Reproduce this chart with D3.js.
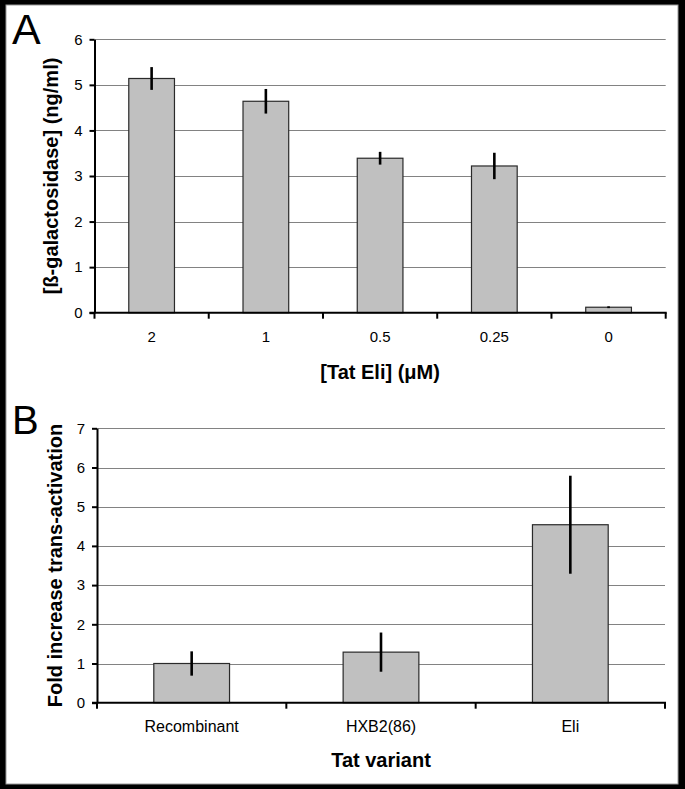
<!DOCTYPE html>
<html>
<head>
<meta charset="utf-8">
<script src="https://cdn.jsdelivr.net/npm/d3@7"></script>
<style>
  html, body { margin: 0; padding: 0; background: #000; }
  svg { display: block; }
  text { font-family: "Liberation Sans", Arial, sans-serif; }
</style>
</head>
<body>
<svg id="chart" width="685" height="789"></svg>
<script>
// ---- data ----
const catsA = ["2", "1", "0.5", "0.25", "0"];
const valsA = [5.14, 4.64, 3.39, 3.22, 0.12];
const errA  = [0.25, 0.27, 0.14, 0.29, 0.02];
const ticksA = [0, 1, 2, 3, 4, 5, 6];

const catsB = ["Recombinant", "HXB2(86)", "Eli"];
const valsB = [1.0, 1.29, 4.54];
const errB  = [0.31, 0.5, 1.25];
const ticksB = [0, 1, 2, 3, 4, 5, 6, 7];

const svg = d3.select("#chart");
svg.append("rect").attr("x", 0).attr("y", 0).attr("width", 685).attr("height", 789).attr("fill", "#000");
svg.append("rect").attr("x", 6).attr("y", 5).attr("width", 672).attr("height", 779)
   .attr("fill", "#fff").attr("stroke", "#9a9a9a").attr("stroke-width", 1);

function panel(cfg) {
  const g = svg.append("g");
  const x = d3.scaleBand().domain(cfg.cats).range([cfg.x0, cfg.x1]).paddingInner(0.6).paddingOuter(0.3);
  const y = d3.scaleLinear().domain([0, cfg.ymax]).range([cfg.y0, cfg.y1]);
  const step = x.step();
  const left = x.range()[0];

  // gridlines
  g.selectAll("line.grid").data(cfg.ticks.filter(t => t > 0)).join("line")
    .attr("class", "grid")
    .attr("x1", cfg.x0).attr("x2", cfg.x1)
    .attr("y1", d => Math.round(y(d)) + 0.5).attr("y2", d => Math.round(y(d)) + 0.5)
    .attr("stroke", "#828282").attr("stroke-width", 1);

  // bars
  g.selectAll("rect.bar").data(cfg.vals).join("rect")
    .attr("class", "bar")
    .attr("x", (d, i) => x(cfg.cats[i]))
    .attr("y", d => y(d))
    .attr("width", x.bandwidth())
    .attr("height", d => y(0) - y(d))
    .attr("fill", "#c0c0c0").attr("stroke", "#2a2a2a").attr("stroke-width", 1.2);

  // error bars
  g.selectAll("line.err").data(cfg.vals).join("line")
    .attr("class", "err")
    .attr("x1", (d, i) => x(cfg.cats[i]) + x.bandwidth() / 2)
    .attr("x2", (d, i) => x(cfg.cats[i]) + x.bandwidth() / 2)
    .attr("y1", (d, i) => y(d + cfg.errs[i]))
    .attr("y2", (d, i) => y(Math.max(0, d - cfg.errs[i])))
    .attr("stroke", "#000").attr("stroke-width", 2.6);

  // y axis
  const ya = g.append("g").attr("transform", `translate(${cfg.x0},0)`)
    .call(d3.axisLeft(y).tickValues(cfg.ticks).tickFormat(d => String(d)).tickSize(5).tickSizeOuter(0).tickPadding(7));
  ya.select(".domain").attr("stroke", "#000").attr("stroke-width", 2);
  ya.selectAll(".tick line").attr("stroke", "#000").attr("stroke-width", 2);
  ya.selectAll(".tick text").attr("font-size", 15).attr("fill", "#000")
    .attr("font-family", '"Liberation Sans", Arial, sans-serif');
  // small extension of the y axis below zero
  g.append("line").attr("x1", cfg.x0).attr("x2", cfg.x0)
    .attr("y1", y(0)).attr("y2", y(0) + 6).attr("stroke", "#000").attr("stroke-width", 2);

  // x axis line + boundary ticks
  g.append("line").attr("x1", cfg.x0 - 5).attr("x2", cfg.x1 + 1)
    .attr("y1", y(0)).attr("y2", y(0)).attr("stroke", "#000").attr("stroke-width", 2);
  g.selectAll("line.xt").data(d3.range(1, cfg.cats.length + 1)).join("line")
    .attr("class", "xt")
    .attr("x1", i => left + i * step).attr("x2", i => left + i * step)
    .attr("y1", y(0)).attr("y2", y(0) + 6)
    .attr("stroke", "#000").attr("stroke-width", 2);
  g.selectAll("text.xl").data(cfg.cats).join("text")
    .attr("class", "xl")
    .attr("x", d => x(d) + x.bandwidth() / 2).attr("y", cfg.xlabY)
    .attr("text-anchor", "middle").attr("font-size", cfg.xlabSize).attr("fill", "#000")
    .text(d => d);

  // titles
  g.append("text").attr("x", (cfg.x0 + cfg.x1) / 2).attr("y", cfg.xtitleY)
    .attr("text-anchor", "middle").attr("font-size", 20).attr("font-weight", "bold").text(cfg.xtitle);
  g.append("text")
    .attr("transform", `translate(${cfg.ytitleX},${(cfg.y0 + cfg.y1) / 2}) rotate(-90)`)
    .attr("text-anchor", "middle").attr("font-size", 20).attr("font-weight", "bold").text(cfg.ytitle);
  g.append("text").attr("x", cfg.letterX).attr("y", cfg.letterY)
    .attr("font-size", cfg.letterSize).text(cfg.letter);
}

panel({
  cats: catsA, vals: valsA, errs: errA, ticks: ticksA, ymax: 6,
  x0: 94.5, x1: 665.7, y0: 312.7, y1: 39.3,
  xlabY: 342, xlabSize: 15, xtitleY: 379, xtitle: "[Tat Eli] (\u03bcM)",
  ytitleX: 57.5, ytitle: "[\u00df-galactosidase] (ng/ml)",
  letter: "A", letterX: 12, letterY: 44, letterSize: 43
});

panel({
  cats: catsB, vals: valsB, errs: errB, ticks: ticksB, ymax: 7,
  x0: 97, x1: 665, y0: 702.7, y1: 428.3,
  xlabY: 732, xlabSize: 16, xtitleY: 767, xtitle: "Tat variant",
  ytitleX: 62, ytitle: "Fold increase trans-activation",
  letter: "B", letterX: 12, letterY: 434, letterSize: 40
});
</script>
</body>
</html>
